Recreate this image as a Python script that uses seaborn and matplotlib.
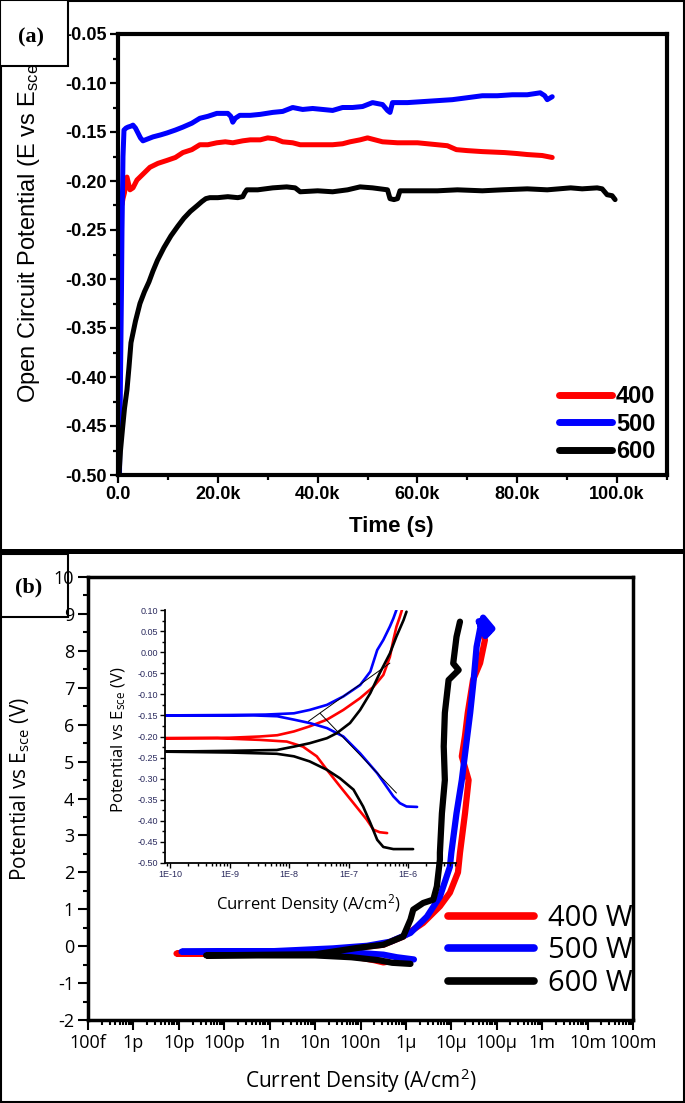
import numpy as np
import pandas as pd
import seaborn as sns
import matplotlib.pyplot as plt
from matplotlib.patches import Rectangle
from matplotlib.lines import Line2D
from matplotlib.ticker import MultipleLocator, LogLocator, NullFormatter, FixedLocator, FixedFormatter

W, H = 685, 1103

# ---------------- (a) open circuit potential vs time ----------------
ocp_names = ['400', '500', '600']
t_400 = [800, 1000, 1300, 1800, 2400, 3000, 3800, 5000, 6400, 8000, 9800, 11500, 13000, 14800, 16400, 18000,
         19800, 21500, 23000, 25000, 26500, 28500, 30000, 31500, 33000, 35000, 36500, 40000, 43000, 45000,
         46500, 48500, 50000, 51500, 53000, 56000, 60000, 64000, 66000, 67800, 70000, 73000, 77500, 80000,
         82000, 85000, 87000]
e_400 = [-0.224, -0.218, -0.212, -0.196, -0.209, -0.207, -0.199, -0.193, -0.186, -0.182, -0.179, -0.176,
         -0.171, -0.168, -0.163, -0.163, -0.161, -0.160, -0.161, -0.159, -0.158, -0.158, -0.156, -0.157,
         -0.160, -0.161, -0.163, -0.163, -0.163, -0.162, -0.160, -0.158, -0.156, -0.158, -0.160, -0.161,
         -0.161, -0.163, -0.164, -0.168, -0.169, -0.170, -0.171, -0.172, -0.173, -0.174, -0.176]
t_500 = [300, 500, 700, 800, 1000, 1200, 1600, 2000, 2600, 3000, 3500, 4000, 4500, 5000, 6000, 7000, 8500,
         9800, 11500, 13000, 14800, 16400, 18000, 19800, 22000, 22600, 23000, 23500, 24400, 26500, 28500,
         31000, 33000, 35000, 37000, 39000, 41000, 43000, 45000, 47000, 49000, 51000, 53000, 54000, 54500,
         55000, 58000, 61000, 64000, 67000, 70000, 73000, 76000, 79000, 82000, 84600, 85500, 86000, 87000]
e_500 = [-0.50, -0.40, -0.31, -0.25, -0.175, -0.148, -0.146, -0.145, -0.144, -0.143, -0.146, -0.151, -0.156,
         -0.159, -0.157, -0.155, -0.153, -0.151, -0.148, -0.145, -0.141, -0.136, -0.134, -0.131, -0.131,
         -0.134, -0.140, -0.136, -0.133, -0.133, -0.132, -0.130, -0.129, -0.125, -0.127, -0.126, -0.127,
         -0.128, -0.125, -0.125, -0.124, -0.120, -0.122, -0.128, -0.130, -0.120, -0.120, -0.119, -0.118,
         -0.117, -0.115, -0.113, -0.113, -0.112, -0.112, -0.110, -0.113, -0.117, -0.114]
t_600 = [200, 500, 900, 1300, 1800, 2200, 2600, 3500, 4400, 5300, 6200, 7000, 7900, 9200, 10600, 12000,
         13200, 14500, 15900, 16800, 17600, 18400, 20000, 22000, 24000, 25000, 25400, 25800, 28000, 31000,
         33800, 35500, 36500, 40000, 43000, 46000, 48500, 51000, 54000, 54500, 55300, 56000, 56500, 60000,
         64000, 68000, 73000, 77000, 82000, 86000, 90700, 93000, 96000, 97000, 98000, 99000, 99600]
e_600 = [-0.500, -0.475, -0.453, -0.432, -0.413, -0.390, -0.365, -0.343, -0.325, -0.313, -0.303, -0.292,
         -0.281, -0.268, -0.256, -0.246, -0.238, -0.231, -0.225, -0.221, -0.218, -0.217, -0.217, -0.216,
         -0.217, -0.216, -0.212, -0.209, -0.209, -0.207, -0.206, -0.207, -0.211, -0.210, -0.211, -0.209,
         -0.206, -0.207, -0.209, -0.218, -0.219, -0.218, -0.210, -0.210, -0.210, -0.209, -0.210, -0.209,
         -0.208, -0.209, -0.207, -0.208, -0.207, -0.208, -0.214, -0.215, -0.219]
time_ticks = [0, 20000, 40000, 60000, 80000, 100000]
time_tick_labels = ['0.0', '20.0k', '40.0k', '60.0k', '80.0k', '100.0k']
ocp_ticks = [-0.50, -0.45, -0.40, -0.35, -0.30, -0.25, -0.20, -0.15, -0.10, -0.05]

# ---------------- (b) polarisation curves ----------------
pol_names = ['400 W', '500 W', '600 W']
j_400 = [4.0e-7, 3.2e-7, 2.0e-7, 1.2e-7, 6.3e-8, 1.6e-8, 1e-9, 1e-10, 8.9e-12, 1e-10, 1e-9, 1e-8, 2.5e-8,
         8.3e-8, 3.2e-7, 8.7e-7, 2.4e-6, 5.6e-6, 9.3e-6, 1.4e-5, 1.55e-5, 2.0e-5, 2.4e-5, 1.7e-5, 2.0e-5,
         2.3e-5, 3.0e-5, 4.3e-5, 5.5e-5, 5.0e-5]
v_400 = [-0.42, -0.44, -0.38, -0.33, -0.27, -0.22, -0.21, -0.20, -0.20, -0.19, -0.18, -0.15, -0.12, -0.04,
         0.04, 0.26, 0.63, 1.08, 1.45, 2.0, 2.53, 3.6, 4.5, 5.14, 5.7, 6.32, 7.21, 7.67, 8.3, 8.45]
j_500 = [1.5e-6, 6.3e-7, 3.2e-7, 6.3e-8, 1e-9, 1.15e-11, 1e-9, 2.5e-8, 1.4e-7, 4.5e-7, 1.26e-6, 2.9e-6,
         5.6e-6, 9.3e-6, 1.0e-5, 1.3e-5, 1.7e-5, 2.1e-5, 2.6e-5, 3.1e-5, 3.6e-5, 4.3e-5, 5.0e-5, 8.0e-5,
         5.6e-5, 4.0e-5, 6.5e-5]
v_500 = [-0.36, -0.30, -0.23, -0.17, -0.15, -0.15, -0.14, -0.06, 0.01, 0.12, 0.36, 0.80, 1.34, 2.15, 2.53,
         3.6, 4.5, 5.41, 6.32, 7.21, 8.11, 8.6, 8.9, 8.6, 8.4, 8.8, 8.5]
j_600 = [1.26e-6, 5e-7, 2.5e-7, 6.3e-8, 1e-8, 4e-11, 1e-8, 8.3e-8, 3.2e-7, 8.7e-7, 1.26e-6, 1.45e-6, 2.4e-6,
         4.0e-6, 4.8e-6, 5.6e-6, 5.6e-6, 6.2e-6, 7.2e-6, 6.8e-6, 7.2e-6, 8.7e-6, 1.45e-5, 1.1e-5, 1.3e-5,
         1.55e-5]
v_600 = [-0.48, -0.45, -0.38, -0.30, -0.25, -0.25, -0.22, -0.05, 0.04, 0.26, 0.72, 0.99, 1.17, 1.26, 1.62,
         2.34, 2.53, 3.6, 4.5, 5.41, 6.32, 7.21, 7.48, 7.66, 8.38, 8.79]
cd_ticks = [1e-13, 1e-12, 1e-11, 1e-10, 1e-9, 1e-8, 1e-7, 1e-6, 1e-5, 1e-4, 1e-3, 1e-2, 1e-1]
cd_tick_labels = ['100f', '1p', '10p', '100p', '1n', '10n', '100n', '1\u03bc', '10\u03bc', '100\u03bc',
                  '1m', '10m', '100m']

# inset (Tafel region)
ji_400 = [4.4e-7, 3.3e-7, 2.6e-7, 2.0e-7, 1.2e-7, 7.1e-8, 4.3e-8, 2.9e-8, 1.7e-8, 9.1e-9, 3.2e-9, 6.3e-10,
          8.3e-11, 1e-9, 3.2e-9, 6.3e-9, 1.2e-8, 2.2e-8, 4.3e-8, 8.1e-8, 1.55e-7, 2.6e-7, 3.8e-7, 4.9e-7,
          5.6e-7, 6.3e-7, 7.2e-7, 7.8e-7]
ei_400 = [-0.429, -0.427, -0.421, -0.397, -0.358, -0.318, -0.279, -0.247, -0.224, -0.212, -0.208, -0.204,
          -0.204, -0.203, -0.200, -0.197, -0.188, -0.176, -0.160, -0.137, -0.109, -0.082, -0.054, -0.011,
          0.029, 0.060, 0.084, 0.100]
ji_500 = [1.4e-6, 9.3e-7, 7.2e-7, 5.6e-7, 3.0e-7, 1.55e-7, 8.1e-8, 4.3e-8, 2.2e-8, 1.2e-8, 6.3e-9, 2.5e-9,
          3.2e-10, 8.3e-11, 1e-9, 4e-9, 1.2e-8, 2.2e-8, 4.3e-8, 8.1e-8, 1.55e-7, 2.3e-7, 3.0e-7, 3.8e-7,
          4.9e-7, 5.6e-7, 6.3e-7]
ei_500 = [-0.367, -0.366, -0.358, -0.342, -0.287, -0.240, -0.200, -0.180, -0.168, -0.160, -0.152, -0.150,
          -0.150, -0.150, -0.149, -0.148, -0.145, -0.137, -0.125, -0.105, -0.078, -0.046, 0.005, 0.029,
          0.061, 0.080, 0.100]
ji_600 = [1.2e-6, 5.6e-7, 3.8e-7, 3.0e-7, 2.3e-7, 1.74e-7, 1.2e-7, 7.1e-8, 4.3e-8, 2.2e-8, 1.2e-8, 6.2e-9,
          1e-9, 8.3e-11, 1e-9, 6.2e-9, 1.2e-8, 2.2e-8, 4.3e-8, 6.3e-8, 1.05e-7, 1.55e-7, 2.3e-7, 3.3e-7,
          4.9e-7, 6.3e-7, 8.3e-7, 9.3e-7]
ei_600 = [-0.467, -0.467, -0.462, -0.445, -0.405, -0.366, -0.326, -0.299, -0.279, -0.259, -0.247, -0.241,
          -0.238, -0.236, -0.234, -0.232, -0.224, -0.216, -0.204, -0.192, -0.168, -0.137, -0.097, -0.050,
          -0.003, 0.037, 0.076, 0.096]
tafel_a_j = [2.1e-8, 4.9e-7]
tafel_a_e = [-0.164, -0.026]
tafel_c_j = [3.3e-8, 6.3e-7]
tafel_c_e = [-0.145, -0.334]
inset_x_ticks = [1e-10, 1e-9, 1e-8, 1e-7, 1e-6]
inset_x_labels = ['1E-10', '1E-9', '1E-8', '1E-7', '1E-6']
inset_y_ticks = [-0.50, -0.45, -0.40, -0.35, -0.30, -0.25, -0.20, -0.15, -0.10, -0.05, 0.00, 0.05, 0.10]

colors = ['#ff0000', '#0000ff', '#000000']

sns.set_theme(style='ticks', rc={'axes.edgecolor': 'black', 'xtick.color': 'black', 'ytick.color': 'black',
                                 'text.color': 'black', 'axes.labelcolor': 'black'})
plt.rcParams['font.family'] = ['Liberation Sans', 'DejaVu Sans']
plt.rcParams['mathtext.default'] = 'regular'
plt.rcParams['axes.unicode_minus'] = False

fig = plt.figure(figsize=(W / 100, H / 100), dpi=100)


def box(x0, y0, x1, y1):
    # pixel box (top-left origin) -> figure fraction rect
    return [x0 / W, 1 - y1 / H, (x1 - x0) / W, (y1 - y0) / H]


# ================= panel (a) =================
ax_a = fig.add_axes(box(118, 34, 667, 475))
ocp = pd.concat([pd.DataFrame({'t': t, 'E': e, 'power': n})
                 for t, e, n in zip([t_400, t_500, t_600], [e_400, e_500, e_600], ocp_names)])
sns.lineplot(data=ocp, x='t', y='E', hue='power', palette=dict(zip(ocp_names, colors)),
             sort=False, estimator=None, linewidth=3.6, ax=ax_a)
ax_a.set_xlim(0, 110000)
ax_a.set_ylim(-0.50, -0.05)
ax_a.set_xticks(time_ticks)
ax_a.set_xticklabels(time_tick_labels)
ax_a.set_yticks(ocp_ticks)
ax_a.set_yticklabels(['%.2f' % v for v in ocp_ticks])
ax_a.xaxis.set_minor_locator(MultipleLocator(10000))
ax_a.yaxis.set_minor_locator(MultipleLocator(0.025))
ax_a.tick_params(which='both', direction='out', width=1.6, top=False, right=False, pad=2)
ax_a.tick_params(which='major', length=6, labelsize=13)
ax_a.tick_params(which='minor', length=3.5)
for lab in ax_a.get_xticklabels() + ax_a.get_yticklabels():
    lab.set_fontweight('bold')
for s in ax_a.spines.values():
    s.set_linewidth(3)
ax_a.set_xlabel('Time (s)', fontsize=16, fontweight='bold', va='center')
ax_a.xaxis.set_label_coords(0.497, -0.116)
# the label runs up under the white "(a)" tag box, as in the original figure
ax_a.set_ylabel('Open Circuit Potential (E vs E$_{sce}$)', fontsize=17, ha='left', va='center')
ax_a.yaxis.set_label_coords(-0.162, 0.163)
handles, labels = ax_a.get_legend_handles_labels()
leg = ax_a.legend(handles, labels, loc='upper left', bbox_to_anchor=(0.803, 0.204), frameon=False,
                  prop={'family': 'Liberation Sans', 'weight': 'bold', 'size': 17}, handlelength=2.25,
                  handletextpad=0.17, labelspacing=0.2, borderpad=0, borderaxespad=0)
for ln in leg.get_lines():
    ln.set_linewidth(5)

# ================= panel (b) =================
ax_b = fig.add_axes(box(88, 577, 633, 1020))
ax_b.set_xscale('log')
pol = pd.concat([pd.DataFrame({'j': j, 'E': v, 'power': n})
                 for j, v, n in zip([j_400, j_500, j_600], [v_400, v_500, v_600], pol_names)])
sns.lineplot(data=pol, x='j', y='E', hue='power', palette=dict(zip(pol_names, colors)),
             sort=False, estimator=None, linewidth=4.5, ax=ax_b)
ax_b.set_xlim(1e-13, 1e-1)
ax_b.set_ylim(-2, 10)
ax_b.xaxis.set_major_locator(FixedLocator(cd_ticks))
ax_b.xaxis.set_major_formatter(FixedFormatter(cd_tick_labels))
ax_b.xaxis.set_minor_locator(LogLocator(base=10, subs=np.arange(2, 10), numticks=200))
ax_b.xaxis.set_minor_formatter(NullFormatter())
ax_b.yaxis.set_major_locator(MultipleLocator(1))
ax_b.yaxis.set_minor_locator(MultipleLocator(0.5))
ax_b.tick_params(which='both', direction='out', width=1.5, top=False, right=False, pad=3)
ax_b.tick_params(which='major', length=7, labelsize=13)
ax_b.tick_params(which='minor', length=3.5)
for lab in ax_b.get_xticklabels() + ax_b.get_yticklabels():
    lab.set_fontfamily('Open Sans')
for s in ax_b.spines.values():
    s.set_linewidth(2.5)
ax_b.set_xlabel('Current Density (A/cm$^2$)', fontsize=15, family='Open Sans', va='center')
ax_b.xaxis.set_label_coords(0.501, -0.138)
ax_b.set_ylabel('Potential vs E$_{sce}$ (V)', fontsize=15, family='Open Sans', va='center')
ax_b.yaxis.set_label_coords(-0.125, 0.521)
handles, labels = ax_b.get_legend_handles_labels()
leg = ax_b.legend(handles, labels, loc='upper left', bbox_to_anchor=(0.66, 0.262), frameon=False,
                  prop={'family': 'Open Sans', 'size': 21}, handlelength=2.95, handletextpad=0.5,
                  labelspacing=0.12, borderpad=0, borderaxespad=0)
for ln in leg.get_lines():
    ln.set_linewidth(5.5)

# ----- inset -----
ax_in = fig.add_axes(box(165, 610, 456, 863))
ax_in.set_xscale('log')
ax_in.patch.set_alpha(0)
tafel = pd.concat([pd.DataFrame({'j': j, 'E': e, 'power': n})
                   for j, e, n in zip([ji_400, ji_500, ji_600], [ei_400, ei_500, ei_600], pol_names)])
sns.lineplot(data=tafel, x='j', y='E', hue='power', palette=dict(zip(pol_names, colors)),
             sort=False, estimator=None, linewidth=1.9, legend=False, ax=ax_in)
sns.lineplot(x=tafel_a_j, y=tafel_a_e, color='black', linewidth=0.7, ax=ax_in)
sns.lineplot(x=tafel_c_j, y=tafel_c_e, color='black', linewidth=0.7, ax=ax_in)
ax_in.set_xlim(8.24e-11, 6.3e-6)
ax_in.set_ylim(-0.50, 0.10)
ax_in.xaxis.set_major_locator(FixedLocator(inset_x_ticks))
ax_in.xaxis.set_major_formatter(FixedFormatter(inset_x_labels))
ax_in.xaxis.set_minor_locator(LogLocator(base=10, subs=np.arange(2, 10), numticks=100))
ax_in.xaxis.set_minor_formatter(NullFormatter())
ax_in.set_yticks(inset_y_ticks)
ax_in.set_yticklabels(['%.2f' % v for v in inset_y_ticks])
ax_in.yaxis.set_minor_locator(MultipleLocator(0.025))
ax_in.tick_params(which='both', direction='out', width=1.0, top=False, right=False, pad=1.5,
                  labelcolor='#2b2b5e')
ax_in.tick_params(which='major', length=3.5, labelsize=6.5)
ax_in.tick_params(which='minor', length=2)
ax_in.spines['top'].set_visible(False)
ax_in.spines['right'].set_visible(False)
for s in ['left', 'bottom']:
    ax_in.spines[s].set_linewidth(1.3)
ax_in.set_xlabel('Current Density (A/cm$^2$)', fontsize=12, family='Open Sans', va='center')
ax_in.xaxis.set_label_coords(0.491, -0.162)
ax_in.set_ylabel('Potential vs E$_{sce}$ (V)', fontsize=12, family='Open Sans', va='center')
ax_in.yaxis.set_label_coords(-0.158, 0.486)

# ================= frames and panel tags =================
fig.add_artist(Rectangle((0.5 / W, 1 - 1102 / H), 683 / W, 1101 / H, transform=fig.transFigure,
                         fill=False, lw=1.5, edgecolor='black'))
fig.add_artist(Line2D([0, 1], [1 - 551 / H, 1 - 551 / H], transform=fig.transFigure, lw=3.6, color='black'))
fig.add_artist(Rectangle((0, 1 - 66 / H), 68 / W, 66 / H, transform=fig.transFigure,
                         facecolor='white', lw=1.5, edgecolor='black', zorder=5))
fig.add_artist(Rectangle((0, 1 - 617 / H), 68 / W, 63 / H, transform=fig.transFigure,
                         fill=False, lw=1.5, edgecolor='black', zorder=5))
fig.text(31 / W, 1 - 37 / H, '(a)', family='Liberation Serif', fontweight='bold', fontsize=16,
         ha='center', va='center', zorder=6)
fig.text(29 / W, 1 - 587 / H, '(b)', family='Liberation Serif', fontweight='bold', fontsize=16,
         ha='center', va='center', zorder=6)

fig.savefig('out.png', dpi=100, facecolor='white')
